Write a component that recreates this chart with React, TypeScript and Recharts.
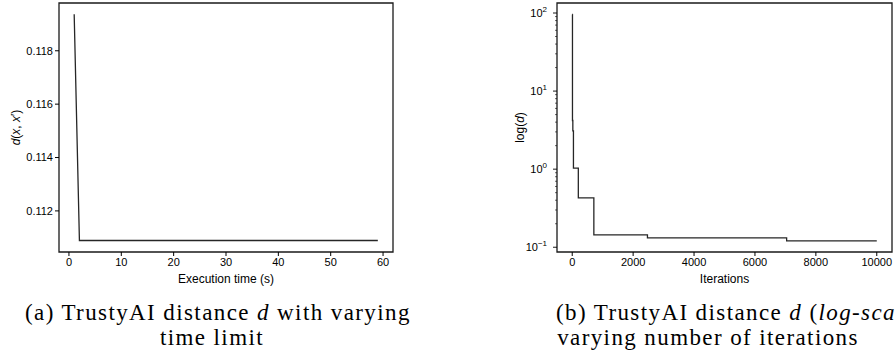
import { Line, LineChart, ReferenceArea, XAxis, YAxis } from 'recharts'

// (a) distance vs. execution time limit
const timeLimits = [1, 2, 59]
const timeDistances = [0.11937, 0.11089, 0.11089]
const timeTicksX = [0, 10, 20, 30, 40, 50, 60]
const timeTicksY = [0.112, 0.114, 0.116, 0.118]

// (b) distance (log) vs. number of iterations
const iterations = [0, 8, 20, 40, 200, 710, 2470, 7040, 10000]
const iterDistances = [96, 4.2, 3.1, 1.03, 0.43, 0.144, 0.132, 0.121, 0.121]
const iterTicksX = [0, 2000, 4000, 6000, 8000, 10000]
const logMajor = [0.1, 1, 10, 100]
const logMinor = [0.2, 0.3, 0.4, 0.5, 0.6, 0.7, 0.8, 0.9, 2, 3, 4, 5, 6, 7, 8, 9, 20, 30, 40, 50, 60, 70, 80, 90]

const timeData = timeLimits.map((t, i) => ({ t, d: timeDistances[i] }))
const iterData = iterations.map((n, i) => ({ n, d: iterDistances[i] }))

const INK = '#000'
const LINE = '#262626'
const tickFont = { fontSize: 11, fill: INK }

function DLabel(props: any) {
  const vb = props.viewBox || { x: 0, y: 3, width: 59, height: 249 }
  const cx = vb.x + 16
  const cy = vb.y + vb.height / 2
  return (
    <text x={cx} y={cy} transform={`rotate(-90 ${cx} ${cy})`} textAnchor="middle" dominantBaseline="central" fontSize={12} fill={INK}>
      <tspan fontStyle="italic">d</tspan>(<tspan fontStyle="italic">x</tspan>, <tspan fontStyle="italic">x</tspan>′)
    </text>
  )
}

function LogDLabel(props: any) {
  const vb = props.viewBox || { x: 50, y: 3, width: 57, height: 249 }
  const cx = vb.x + 20
  const cy = vb.y + vb.height / 2
  return (
    <text x={cx} y={cy} transform={`rotate(-90 ${cx} ${cy})`} textAnchor="middle" dominantBaseline="central" fontSize={12} fill={INK}>
      log(<tspan fontStyle="italic">d</tspan>)
    </text>
  )
}

function LogTick(props: any) {
  const { x, y, payload } = props
  const v = payload.value
  const lg = Math.log10(v)
  const exp = Math.round(lg)
  const major = Math.abs(lg - exp) < 1e-6
  const ax = x + 4
  return (
    <g>
      <line x1={ax - (major ? 4 : 2)} x2={ax} y1={y} y2={y} stroke={INK} strokeWidth={major ? 0.9 : 0.6} />
      {major && (
        <text x={x - 6} y={y} dy={4} textAnchor="end" fontSize={11} fill={INK}>
          10
          <tspan dy={-5} fontSize={8}>{exp < 0 ? '−' + -exp : String(exp)}</tspan>
        </text>
      )}
    </g>
  )
}

function TimeChart() {
  return (
    <LineChart width={450} height={290} data={timeData} margin={{ top: 3, right: 57, bottom: 0, left: 0 }}>
      <XAxis
        dataKey="t"
        type="number"
        domain={[-1.9, 61.9]}
        ticks={timeTicksX}
        interval={0}
        height={38}
        axisLine={false}
        tickLine={{ stroke: INK }}
        tickSize={4}
        tickMargin={2}
        tick={tickFont}
        label={{ value: 'Execution time (s)', position: 'insideBottom', offset: 7, fill: INK, fontSize: 12 }}
      />
      <YAxis
        dataKey="d"
        type="number"
        domain={[0.11046, 0.11979]}
        allowDataOverflow
        ticks={timeTicksY}
        interval={0}
        width={59}
        axisLine={false}
        tickLine={{ stroke: INK }}
        tickSize={4}
        tickMargin={2}
        tick={tickFont}
        tickFormatter={(v: number) => v.toFixed(3)}
        label={(p: any) => <DLabel {...p} />}
      />
      <ReferenceArea x1={-1.9} x2={61.9} y1={0.11046} y2={0.11979} fill="none" stroke="#1a1a1a" strokeWidth={1.3} ifOverflow="visible" />
      <Line dataKey="d" type="linear" stroke={LINE} strokeWidth={1.3} dot={false} isAnimationActive={false} />
    </LineChart>
  )
}

function IterChart() {
  return (
    <LineChart width={445} height={290} data={iterData} margin={{ top: 3, right: 3, bottom: 0, left: 50 }}>
      <XAxis
        dataKey="n"
        type="number"
        domain={[-500, 10500]}
        ticks={iterTicksX}
        interval={0}
        height={38}
        axisLine={false}
        tickLine={{ stroke: INK }}
        tickSize={4}
        tickMargin={2}
        tick={tickFont}
        label={{ value: 'Iterations', position: 'insideBottom', offset: 7, fill: INK, fontSize: 12 }}
      />
      <YAxis
        dataKey="d"
        type="number"
        scale="log"
        domain={[0.0869, 134.3]}
        allowDataOverflow
        ticks={[...logMajor, ...logMinor]}
        interval={0}
        width={57}
        axisLine={false}
        tickLine={false}
        tickSize={4}
        tickMargin={0}
        tick={(p: any) => <LogTick {...p} />}
        label={(p: any) => <LogDLabel {...p} />}
      />
      <ReferenceArea x1={-500} x2={10500} y1={0.0869} y2={134.3} fill="none" stroke="#1a1a1a" strokeWidth={1.3} ifOverflow="visible" />
      <Line dataKey="d" type="stepAfter" stroke={LINE} strokeWidth={1.3} dot={false} isAnimationActive={false} />
    </LineChart>
  )
}

const captionStyle: React.CSSProperties = {
  position: 'absolute',
  fontFamily: '"Liberation Serif", "Times New Roman", serif',
  fontSize: 23,
  lineHeight: '26px',
  letterSpacing: 1.4,
  whiteSpace: 'nowrap',
  color: '#000',
}

export default function App() {
  return (
    <div
      style={{
        position: 'fixed',
        left: 0,
        top: 0,
        width: 895,
        height: 356,
        overflow: 'hidden',
        background: '#fff',
        fontFamily: '"Liberation Sans", Arial, sans-serif',
      }}
    >
      <div style={{ position: 'absolute', left: 0, top: 0 }}>
        <TimeChart />
      </div>
      <div style={{ position: 'absolute', left: 450, top: 0 }}>
        <IterChart />
      </div>
      <div style={{ ...captionStyle, left: 25, top: 300 }}>
        (a) TrustyAI distance <i>d</i> with varying
      </div>
      <div style={{ ...captionStyle, left: 0, width: 424, top: 325, textAlign: 'center' }}>time limit</div>
      <div style={{ ...captionStyle, left: 556, top: 300 }}>
        (b) TrustyAI distance <i>d</i> (<i>log-scale</i>) with
      </div>
      <div style={{ ...captionStyle, left: 508, width: 400, top: 325, textAlign: 'center' }}>
        varying number of iterations
      </div>
    </div>
  )
}
